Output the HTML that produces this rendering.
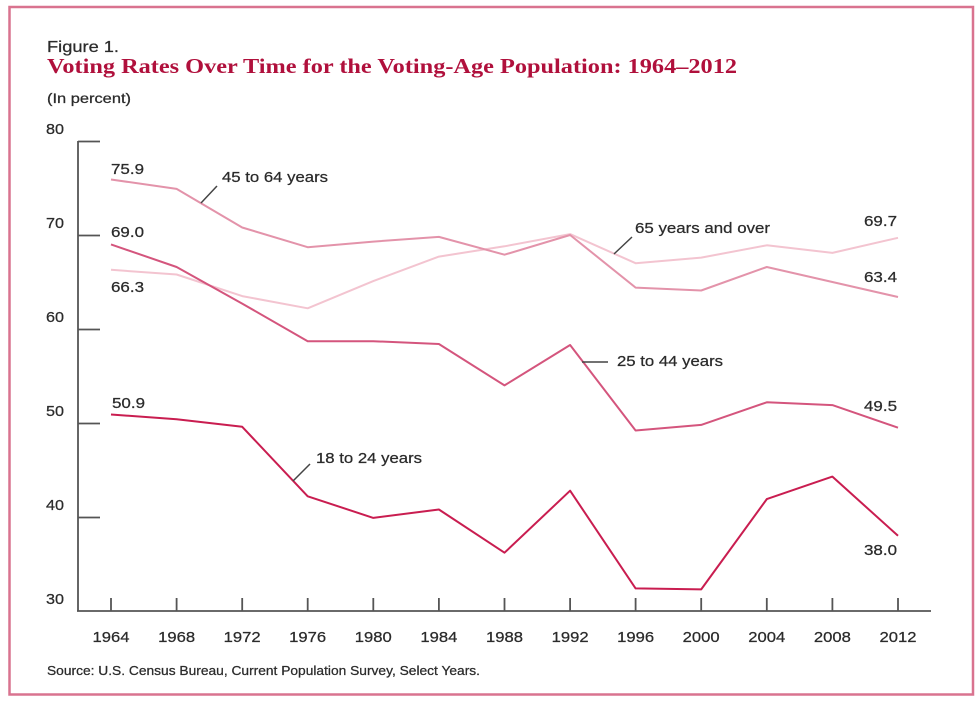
<!DOCTYPE html>
<html><head><meta charset="utf-8"><style>
html,body{margin:0;padding:0;background:#fff;}
svg{display:block;}
text{font-family:"Liberation Sans","DejaVu Sans",sans-serif;fill:#2b2b2b;}
.t{stroke:#2b2b2b;stroke-width:0.25;}
</style></head><body>
<svg width="980" height="701" viewBox="0 0 980 701" xmlns="http://www.w3.org/2000/svg">
<rect x="0" y="0" width="980" height="701" fill="#fff"/>
<rect x="9.5" y="7" width="963.5" height="687.5" fill="none" stroke="#d9738f" stroke-width="2.5"/>

<text class="t" x="47" y="52" font-size="16" textLength="72" lengthAdjust="spacingAndGlyphs">Figure 1.</text>
<text x="47" y="73" font-size="21" font-weight="bold" style="font-family:'Liberation Serif','DejaVu Serif',serif;fill:#b0103c" textLength="690" lengthAdjust="spacingAndGlyphs">Voting Rates Over Time for the Voting-Age Population: 1964–2012</text>
<text class="t" x="47" y="103" font-size="14" textLength="84" lengthAdjust="spacingAndGlyphs">(In percent)</text>

<!-- axes -->
<g stroke="#555" stroke-width="1.8" fill="none">
<line x1="78" y1="141" x2="78" y2="611"/>
<line x1="77" y1="611" x2="931" y2="611"/>
<line x1="78" y1="141.5" x2="100" y2="141.5"/>
<line x1="78" y1="235.5" x2="100" y2="235.5"/>
<line x1="78" y1="329.5" x2="100" y2="329.5"/>
<line x1="78" y1="423.5" x2="100" y2="423.5"/>
<line x1="78" y1="517.5" x2="100" y2="517.5"/>
<line x1="111" y1="598" x2="111" y2="611"/>
<line x1="176.6" y1="598" x2="176.6" y2="611"/>
<line x1="242.2" y1="598" x2="242.2" y2="611"/>
<line x1="307.7" y1="598" x2="307.7" y2="611"/>
<line x1="373.3" y1="598" x2="373.3" y2="611"/>
<line x1="438.9" y1="598" x2="438.9" y2="611"/>
<line x1="504.5" y1="598" x2="504.5" y2="611"/>
<line x1="570.1" y1="598" x2="570.1" y2="611"/>
<line x1="635.6" y1="598" x2="635.6" y2="611"/>
<line x1="701.2" y1="598" x2="701.2" y2="611"/>
<line x1="766.8" y1="598" x2="766.8" y2="611"/>
<line x1="832.4" y1="598" x2="832.4" y2="611"/>
<line x1="898" y1="598" x2="898" y2="611"/>
</g>

<g font-size="15" class="t">
<text x="46" y="134" textLength="18" lengthAdjust="spacingAndGlyphs">80</text>
<text x="46" y="228" textLength="18" lengthAdjust="spacingAndGlyphs">70</text>
<text x="46" y="322" textLength="18" lengthAdjust="spacingAndGlyphs">60</text>
<text x="46" y="416" textLength="18" lengthAdjust="spacingAndGlyphs">50</text>
<text x="46" y="510" textLength="18" lengthAdjust="spacingAndGlyphs">40</text>
<text x="46" y="604" textLength="18" lengthAdjust="spacingAndGlyphs">30</text>
</g>

<g font-size="15" class="t">
<text x="92.5" y="642" textLength="37" lengthAdjust="spacingAndGlyphs">1964</text>
<text x="158.1" y="642" textLength="37" lengthAdjust="spacingAndGlyphs">1968</text>
<text x="223.7" y="642" textLength="37" lengthAdjust="spacingAndGlyphs">1972</text>
<text x="289.2" y="642" textLength="37" lengthAdjust="spacingAndGlyphs">1976</text>
<text x="354.8" y="642" textLength="37" lengthAdjust="spacingAndGlyphs">1980</text>
<text x="420.4" y="642" textLength="37" lengthAdjust="spacingAndGlyphs">1984</text>
<text x="486" y="642" textLength="37" lengthAdjust="spacingAndGlyphs">1988</text>
<text x="551.6" y="642" textLength="37" lengthAdjust="spacingAndGlyphs">1992</text>
<text x="617.1" y="642" textLength="37" lengthAdjust="spacingAndGlyphs">1996</text>
<text x="682.7" y="642" textLength="37" lengthAdjust="spacingAndGlyphs">2000</text>
<text x="748.3" y="642" textLength="37" lengthAdjust="spacingAndGlyphs">2004</text>
<text x="813.9" y="642" textLength="37" lengthAdjust="spacingAndGlyphs">2008</text>
<text x="879.5" y="642" textLength="37" lengthAdjust="spacingAndGlyphs">2012</text>
</g>

<!-- series -->
<g fill="none" stroke-width="2" stroke-linejoin="round">
<polyline stroke="#f3c4d0" points="111,269.8 176.6,274.5 242.2,296.1 307.7,308.3 373.3,281.1 438.9,256.6 504.5,246.3 570.1,234.1 635.6,263.2 701.2,257.6 766.8,245.3 832.4,252.9 898,237.8"/>
<polyline stroke="#e393aa" points="111,179.5 176.6,188.9 242.2,227.5 307.7,247.2 373.3,241.6 438.9,236.9 504.5,254.7 570.1,235 635.6,287.6 701.2,290.5 766.8,267 832.4,282 898,297"/>
<polyline stroke="#d4557d" points="111,244.4 176.6,267 242.2,303.6 307.7,341.2 373.3,341.2 438.9,344 504.5,385.4 570.1,345 635.6,430.5 701.2,424.9 766.8,402.3 832.4,405.1 898,427.7"/>
<polyline stroke="#c91d50" points="111,414.5 176.6,419.2 242.2,426.8 307.7,496.3 373.3,517.9 438.9,509.5 504.5,552.7 570.1,490.7 635.6,588.4 701.2,589.4 766.8,499.1 832.4,476.6 898,535.8"/>
</g>

<!-- leaders -->
<g stroke="#444" stroke-width="1.5">
<line x1="201" y1="203" x2="217" y2="186"/>
<line x1="614" y1="254" x2="632" y2="237"/>
<line x1="582" y1="362" x2="608" y2="362"/>
<line x1="293" y1="481" x2="310" y2="464"/>
</g>

<g font-size="15" class="t">
<text x="222" y="182" textLength="106" lengthAdjust="spacingAndGlyphs">45 to 64 years</text>
<text x="635" y="233" textLength="135" lengthAdjust="spacingAndGlyphs">65 years and over</text>
<text x="617" y="366" textLength="106" lengthAdjust="spacingAndGlyphs">25 to 44 years</text>
<text x="316" y="463" textLength="106" lengthAdjust="spacingAndGlyphs">18 to 24 years</text>
<text x="111" y="174" textLength="33" lengthAdjust="spacingAndGlyphs">75.9</text>
<text x="111" y="237" textLength="33" lengthAdjust="spacingAndGlyphs">69.0</text>
<text x="111" y="292" textLength="33" lengthAdjust="spacingAndGlyphs">66.3</text>
<text x="112" y="408" textLength="33" lengthAdjust="spacingAndGlyphs">50.9</text>
<text x="864" y="226" textLength="33" lengthAdjust="spacingAndGlyphs">69.7</text>
<text x="864" y="282" textLength="33" lengthAdjust="spacingAndGlyphs">63.4</text>
<text x="864" y="411" textLength="33" lengthAdjust="spacingAndGlyphs">49.5</text>
<text x="864" y="555" textLength="33" lengthAdjust="spacingAndGlyphs">38.0</text>
</g>

<text class="t" x="47" y="675" font-size="13" textLength="433" lengthAdjust="spacingAndGlyphs">Source: U.S. Census Bureau, Current Population Survey, Select Years.</text>
</svg>
</body></html>
